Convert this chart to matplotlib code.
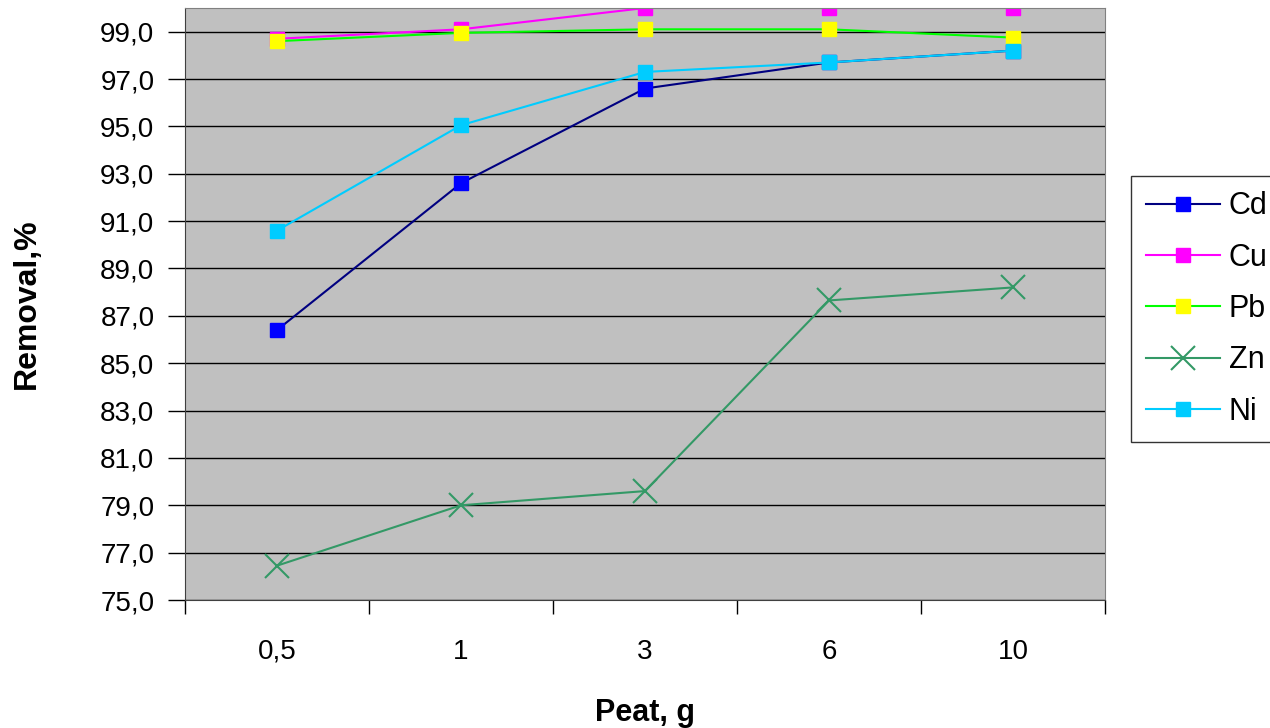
import matplotlib.pyplot as plt
import numpy as np

plt.rcParams['font.family'] = ['Liberation Sans', 'DejaVu Sans']

# Peat dose categories and removal (%) per metal
peat = ['0,5', '1', '3', '6', '10']
cd = [86.4, 92.6, 96.6, 97.7, 98.2]
cu = [98.7, 99.1, 100.0, 100.0, 100.0]
pb = [98.6, 98.95, 99.1, 99.1, 98.75]
zn = [76.45, 79.0, 79.6, 87.65, 88.2]
ni = [90.6, 95.05, 97.3, 97.7, 98.2]

x = np.arange(len(peat))

fig = plt.figure(figsize=(12.7, 7.28), dpi=100)
ax = fig.add_axes([185 / 1270, 1 - 600 / 728, 920 / 1270, 592 / 728])
ax.set_facecolor('#C0C0C0')

ax.plot(x, cd, color='#000080', lw=1.5, marker='s', ms=10, mfc='#0000FF', mec='#0000FF', label='Cd')
ax.plot(x, cu, color='#FF00FF', lw=1.5, marker='s', ms=10, mfc='#FF00FF', mec='#FF00FF', label='Cu')
ax.plot(x, pb, color='#00FF00', lw=1.5, marker='s', ms=10, mfc='#FFFF00', mec='#FFFF00', label='Pb')
ax.plot(x, zn, color='#339966', lw=1.5, marker='x', ms=17, mew=1.5, label='Zn')
ax.plot(x, ni, color='#00CCFF', lw=1.5, marker='s', ms=10, mfc='#00CCFF', mec='#00CCFF', label='Ni')

ax.set_xlim(-0.5, len(peat) - 0.5)
ax.set_ylim(75, 100)
yt = np.arange(75, 100, 2)
ax.set_yticks(yt)
ax.set_yticklabels([f'{v:.1f}'.replace('.', ',') for v in yt], fontsize=20)
ax.yaxis.grid(True, color='black', lw=1)
ax.set_axisbelow(True)

ax.set_xticks(x)
ax.set_xticklabels(peat, fontsize=20)
ax.set_xticks(np.arange(-0.5, len(peat)), minor=True)
ax.tick_params(axis='x', which='major', length=0, pad=28)
ax.tick_params(axis='x', which='minor', length=10, width=1, color='black')
ax.tick_params(axis='y', length=12, width=1, pad=10)

for s in ['top', 'right']:
    ax.spines[s].set_color('#808080')
for s in ['left', 'bottom']:
    ax.spines[s].set_color('#404040')

ax.set_xlabel('Peat, g', fontsize=22, fontweight='bold', labelpad=24)
ax.set_ylabel('Removal,%', fontsize=23, fontweight='bold', labelpad=42)

leg = fig.legend(loc='upper left', bbox_to_anchor=(1131 / 1270, 1 - 176 / 728),
                 fontsize=22, handlelength=2.4, handletextpad=0.3, labelspacing=0.7,
                 borderpad=0.5, borderaxespad=0, fancybox=False, frameon=True)
leg.get_frame().set_edgecolor('black')
leg.get_frame().set_linewidth(1)

fig.savefig('out.png', dpi=100)
